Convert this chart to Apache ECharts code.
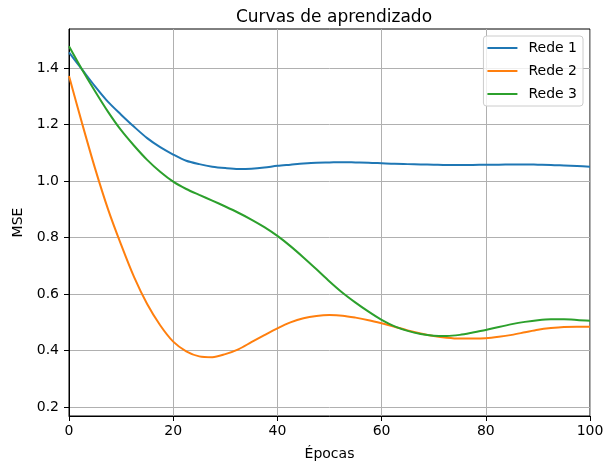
<!DOCTYPE html>
<html>
<head>
<meta charset="utf-8">
<script src="https://cdn.jsdelivr.net/npm/echarts@6/dist/echarts.min.js"></script>
<style>
  html, body { margin: 0; padding: 0; background: #fff; }
  #chart { width: 610px; height: 466px; }
</style>
</head>
<body>
<div id="chart"></div>
<script>
// epocas (eixo x), passo 2.5
var epocas = [0, 2.5, 5, 7.5, 10, 12.5, 15, 17.5, 20, 22.5, 25, 27.5, 30, 32.5, 35, 37.5, 40, 42.5, 45, 47.5,
  50, 52.5, 55, 57.5, 60, 62.5, 65, 67.5, 70, 72.5, 75, 77.5, 80, 82.5, 85, 87.5, 90, 92.5, 95, 97.5, 100];
// MSE
var rede1 = [1.455, 1.395, 1.335, 1.28, 1.235, 1.192, 1.152, 1.12, 1.094, 1.072, 1.06, 1.051, 1.046, 1.043, 1.044, 1.048, 1.054, 1.058, 1.062, 1.065,
  1.066, 1.067, 1.066, 1.065, 1.063, 1.061, 1.06, 1.059, 1.058, 1.057, 1.057, 1.057, 1.058, 1.058, 1.059, 1.059, 1.058, 1.057, 1.055, 1.053, 1.051];
var rede2 = [1.372, 1.205, 1.045, 0.9, 0.775, 0.66, 0.565, 0.49, 0.432, 0.398, 0.38, 0.377, 0.388, 0.405, 0.43, 0.455, 0.479, 0.5, 0.515, 0.523,
  0.526, 0.524, 0.517, 0.508, 0.497, 0.485, 0.472, 0.461, 0.452, 0.446, 0.443, 0.443, 0.444, 0.449, 0.456, 0.465, 0.474, 0.48, 0.484, 0.485, 0.485];
var rede3 = [1.477, 1.395, 1.318, 1.245, 1.18, 1.125, 1.075, 1.033, 0.998, 0.972, 0.951, 0.931, 0.91, 0.888, 0.864, 0.837, 0.806, 0.77, 0.73, 0.688,
  0.645, 0.605, 0.57, 0.538, 0.509, 0.486, 0.47, 0.459, 0.453, 0.452, 0.456, 0.464, 0.473, 0.484, 0.494, 0.502, 0.508, 0.511, 0.511, 0.509, 0.506];
var nomes = ["Rede 1", "Rede 2", "Rede 3"];
var yTicks = [0.2, 0.4, 0.6, 0.8, 1.0, 1.2, 1.4];

function pares(ys) {
  return epocas.map(function (e, i) { return [e, ys[i]]; });
}

var font = "DejaVu Sans";
var chart = echarts.init(document.getElementById("chart"), null, { renderer: "canvas" });
chart.setOption({
  animation: false,
  textStyle: { fontFamily: font },
  color: ["#1f77b4", "#ff7f0e", "#2ca02c"],
  title: {
    text: "Curvas de aprendizado",
    left: 329,
    textAlign: "center",
    top: 4,
    textStyle: { fontFamily: font, fontSize: 17, fontWeight: "normal", color: "#000" }
  },
  legend: {
    data: nomes,
    orient: "vertical",
    right: 27,
    top: 36,
    icon: "rect",
    itemWidth: 30,
    itemHeight: 2,
    itemGap: 7,
    padding: [4, 6, 4, 4],
    backgroundColor: "rgba(255,255,255,0.8)",
    borderColor: "#cccccc",
    borderWidth: 1,
    borderRadius: 3,
    textStyle: { fontFamily: font, fontSize: 14, color: "#000", lineHeight: 16, padding: [0, 0, 0, 6] }
  },
  grid: {
    left: 69, right: 20, top: 29, bottom: 50,
    show: true, borderColor: "#000", borderWidth: 1
  },
  xAxis: {
    type: "value",
    min: 0, max: 100, interval: 20,
    name: "Épocas",
    nameLocation: "middle",
    nameGap: 31,
    nameTextStyle: { fontFamily: font, fontSize: 14, color: "#000" },
    axisLine: { show: true, lineStyle: { color: "#000", width: 1 } },
    axisTick: { show: true, inside: false, length: 5, lineStyle: { color: "#000" } },
    axisLabel: { fontFamily: font, fontSize: 14, color: "#000", margin: 8 },
    splitLine: { show: true, lineStyle: { color: "#b0b0b0", width: 1 } }
  },
  yAxis: {
    type: "value",
    min: 0.169, max: 1.538,
    name: "MSE",
    nameLocation: "middle",
    nameGap: 40,
    nameTextStyle: { fontFamily: font, fontSize: 14, color: "#000" },
    axisLine: { show: true, lineStyle: { color: "#000", width: 1 } },
    axisTick: { show: true, length: 5, customValues: yTicks, lineStyle: { color: "#000" } },
    axisLabel: {
      fontFamily: font, fontSize: 14, color: "#000", margin: 10,
      customValues: yTicks,
      formatter: function (v) { return v.toFixed(1); }
    },
    splitLine: { show: true, lineStyle: { color: "#b0b0b0", width: 1 } }
  },
  series: [
    { name: nomes[0], type: "line", data: pares(rede1), smooth: 0.3, showSymbol: false, lineStyle: { width: 2 } },
    { name: nomes[1], type: "line", data: pares(rede2), smooth: 0.3, showSymbol: false, lineStyle: { width: 2 } },
    { name: nomes[2], type: "line", data: pares(rede3), smooth: 0.3, showSymbol: false, lineStyle: { width: 2 } }
  ]
});
</script>
</body>
</html>
